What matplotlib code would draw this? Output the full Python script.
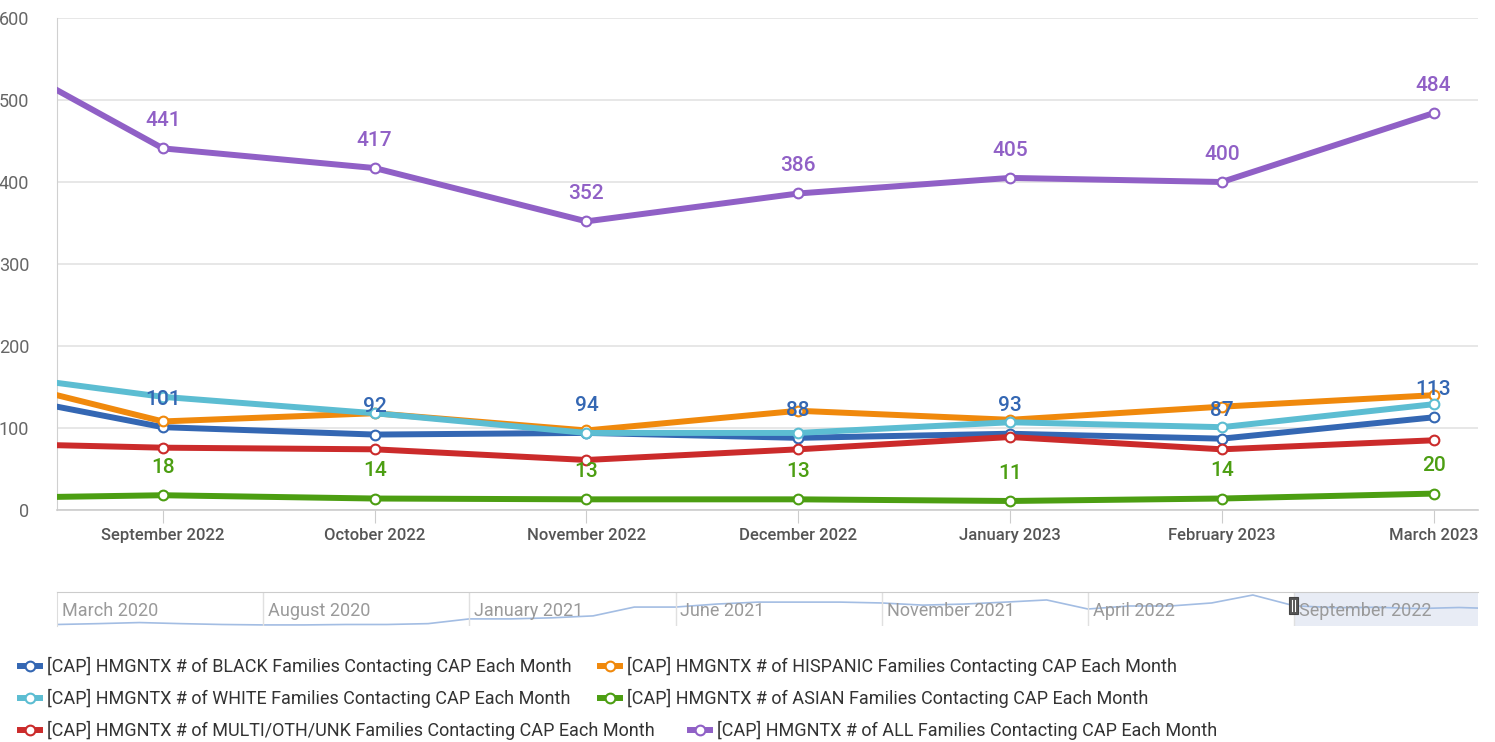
import matplotlib
matplotlib.use("Agg")
import matplotlib.pyplot as plt
from matplotlib import font_manager
from matplotlib.lines import Line2D
from matplotlib.patches import Rectangle

# main panel months; the August point sits just off the left edge of the plot
months = ["August 2022", "September 2022", "October 2022", "November 2022",
          "December 2022", "January 2023", "February 2023", "March 2023"]

black = [151, 101, 92, 94, 88, 93, 87, 113]
hispanic = [172, 108, 118, 97, 121, 110, 126, 140]
white = [172, 138, 118, 94, 94, 107, 101, 129]
asian = [14, 18, 14, 13, 13, 11, 14, 20]
multi = [82, 76, 74, 61, 74, 89, 74, 85]
all_fam = [583, 441, 417, 352, 386, 405, 400, 484]

# navigator (whole history of the BLACK series, March 2020 .. March 2023)
nav_values = [14, 18, 23, 18, 14, 12, 12, 14, 14, 18,
              40, 40, 45, 54, 95, 95, 109, 118, 118, 118,
              114, 104, 109, 118, 128, 86, 100, 100, 114, 151,
              101, 92, 94, 88, 93, 87, 113]
nav_labels = ["March 2020", "August 2020", "January 2021", "June 2021",
              "November 2021", "April 2022", "September 2022"]

series = [
    ("[CAP] HMGNTX # of BLACK Families Contacting CAP Each Month", black, "#3467b3"),
    ("[CAP] HMGNTX # of HISPANIC Families Contacting CAP Each Month", hispanic, "#f0890c"),
    ("[CAP] HMGNTX # of WHITE Families Contacting CAP Each Month", white, "#5cbdd2"),
    ("[CAP] HMGNTX # of ASIAN Families Contacting CAP Each Month", asian, "#4c9e12"),
    ("[CAP] HMGNTX # of MULTI/OTH/UNK Families Contacting CAP Each Month", multi, "#cb2b2b"),
    ("[CAP] HMGNTX # of ALL Families Contacting CAP Each Month", all_fam, "#9060c6"),
]
labelled = [0, 3, 5]  # only these series show their data labels

installed = {f.name for f in font_manager.fontManager.ttflist}
FONT = "Liberation Sans Narrow" if "Liberation Sans Narrow" in installed else "Roboto"
plt.rcParams["font.family"] = FONT

W, H = 1495, 742
fig = plt.figure(figsize=(W / 100, H / 100), dpi=100)


def fx(px):
    return px / W


def fy(py):
    return 1 - py / H


# ---- main chart
ax = fig.add_axes([fx(57), fy(510), fx(1478) - fx(57), fy(18) - fy(510)])
x = list(range(-1, len(months) - 1))
for i, (name, vals, col) in enumerate(series):
    ax.plot(x, vals, color=col, lw=4.3, marker="o", ms=7, mfc="white",
            mec=col, mew=1.5, zorder=3 + i, solid_capstyle="round", clip_on=True)
for i in labelled:
    name, vals, col = series[i]
    for xi, v in zip(x[1:], vals[1:]):
        ax.annotate(str(v), (xi, v), xytext=(0, 20), textcoords="offset points",
                    ha="center", va="center", color=col, fontsize=15,
                    fontweight="medium", zorder=20)

ax.set_xlim(-0.5, 6.21)
ax.set_ylim(0, 600)
ax.set_yticks(range(0, 601, 100))
ax.grid(axis="y", color="#e3e3e3", lw=1.2)
ax.set_axisbelow(True)
ax.set_xticks(range(7))
ax.set_xticklabels(months[1:], fontsize=12, color="#555555", fontweight="medium")
ax.tick_params(axis="x", length=9, color="#cccccc", pad=4)
ax.tick_params(axis="y", length=0, pad=20, labelsize=13, labelcolor="#666666")
for s in ["top", "right"]:
    ax.spines[s].set_visible(False)
ax.spines["left"].set_color("#d0d0d0")
ax.spines["bottom"].set_color("#cccccc")
ax.spines["bottom"].set_linewidth(1.2)

# ---- navigator
nav = fig.add_axes([fx(57), fy(626), fx(1478) - fx(57), fy(592) - fy(626)])
nav.plot(range(len(nav_values)), nav_values, color="#a3bde3", lw=1.2)
nav.set_xlim(0, 34.46)
nav.set_ylim(7, 165)
nav.axvspan(30, 34.46, color="#e3e8f3", alpha=0.8, lw=0)
for k, lab in enumerate(nav_labels):
    xi = 5 * k
    if k > 0:
        nav.axvline(xi, color="#e0e0e0", lw=1)
    nav.text(xi + 0.12, 0.45, lab, transform=nav.get_xaxis_transform(),
             ha="left", va="center", fontsize=13, color="#9a9a9a")
nav.set_xticks([])
nav.set_yticks([])
for s in ["right", "bottom"]:
    nav.spines[s].set_visible(False)
nav.spines["top"].set_color("#cccccc")
nav.spines["left"].set_color("#dddddd")
# handle of the range selector
fig.add_artist(Rectangle((fx(1289), fy(614)), fx(9), fy(597) - fy(614),
                         transform=fig.transFigure, facecolor="#555555",
                         edgecolor="#444444", lw=0.8))
for hx in (1292, 1295):
    fig.add_artist(Line2D([fx(hx), fx(hx)], [fy(611), fy(600)],
                          transform=fig.transFigure, color="white", lw=0.8))

# ---- legend, laid out by hand like the original
legend_pos = [(20, 666), (600, 666), (20, 698), (600, 698), (20, 730), (690, 730)]
for (name, vals, col), (lx, ly) in zip(series, legend_pos):
    fig.add_artist(Line2D([fx(lx), fx(lx + 20)], [fy(ly), fy(ly)],
                          transform=fig.transFigure, color=col, lw=4.3))
    fig.add_artist(Line2D([fx(lx + 10)], [fy(ly)], transform=fig.transFigure,
                          marker="o", ms=7, mfc="white", mec=col, mew=1.5))
    fig.text(fx(lx + 27), fy(ly), name, ha="left", va="center",
             fontsize=13, color="#333333")

fig.savefig("out.png", dpi=100)
